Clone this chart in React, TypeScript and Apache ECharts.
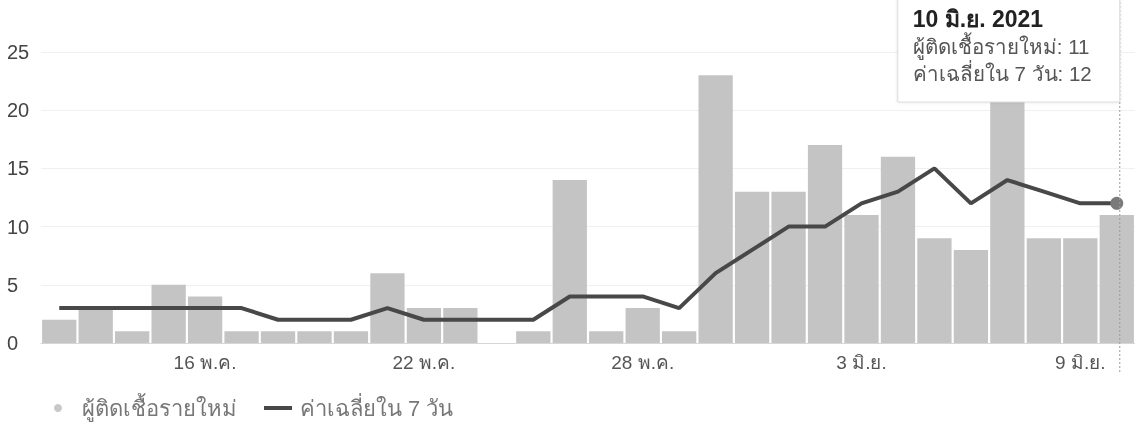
import React, { useEffect, useRef } from "react";
import * as echarts from "echarts";

const dates = [
  "12 พ.ค.", "13 พ.ค.", "14 พ.ค.", "15 พ.ค.", "16 พ.ค.", "17 พ.ค.", "18 พ.ค.", "19 พ.ค.", "20 พ.ค.", "21 พ.ค.",
  "22 พ.ค.", "23 พ.ค.", "24 พ.ค.", "25 พ.ค.", "26 พ.ค.", "27 พ.ค.", "28 พ.ค.", "29 พ.ค.", "30 พ.ค.", "31 พ.ค.",
  "1 มิ.ย.", "2 มิ.ย.", "3 มิ.ย.", "4 มิ.ย.", "5 มิ.ย.", "6 มิ.ย.", "7 มิ.ย.", "8 มิ.ย.", "9 มิ.ย.", "10 มิ.ย.",
];
const newCases = [2, 3, 1, 5, 4, 1, 1, 1, 1, 6, 3, 3, 0, 1, 14, 1, 3, 1, 23, 13, 13, 17, 11, 16, 9, 8, 22, 9, 9, 11];
const avg7 = [3, 3, 3, 3, 3, 3, 2, 2, 2, 3, 2, 2, 2, 2, 4, 4, 4, 3, 6, 8, 10, 10, 12, 13, 15, 12, 14, 13, 12, 12];
const yTicks = [0, 5, 10, 15, 20, 25];
const labelDates = ["16 พ.ค.", "22 พ.ค.", "28 พ.ค.", "3 มิ.ย.", "9 มิ.ย."];
const year = "2021";
const seriesNames = ["ผู้ติดเชื้อรายใหม่", "ค่าเฉลี่ยใน 7 วัน"];

const FONT = "Arial, 'Liberation Sans', 'Noto Sans', sans-serif";
const BAR = "#c4c4c4";
const LINE = "#484848";

// pick a font size so that a text occupies about the width it has in the reference
function fitSize(text: string, target: number, weight: string, lo: number, hi: number): number {
  const ctx = document.createElement("canvas").getContext("2d");
  if (!ctx) return lo;
  ctx.font = `${weight} 100px ${FONT}`;
  const w = ctx.measureText(text).width;
  if (!w) return lo;
  const s = (100 * target) / w;
  return Math.max(lo, Math.min(hi, Math.round(s * 2) / 2));
}

export default function App() {
  const ref = useRef<HTMLDivElement>(null);
  useEffect(() => {
    if (!ref.current) return;
    const chart = echarts.init(ref.current, null, { renderer: "svg" });
    const last = dates.length - 1;
    const lineData = avg7.map((v, i) =>
      i === last ? { value: v, symbol: "circle", symbolSize: 13, itemStyle: { color: "#7a7a7a" } } : v
    );
    const xLabelSize = fitSize(labelDates[0], 63, "normal", 16, 21);
    chart.setOption({
      animation: false,
      textStyle: { fontFamily: FONT },
      grid: { left: 41, width: 1099, top: 52, bottom: 79, containLabel: false },
      xAxis: {
        type: "category",
        data: dates,
        boundaryGap: true,
        axisTick: { show: false },
        axisLine: { show: true, lineStyle: { color: "#d6d6d6", width: 1 } },
        axisLabel: {
          interval: (i: number, v: string) => labelDates.includes(v),
          color: "#555",
          fontSize: xLabelSize,
          margin: 10,
          fontFamily: FONT,
        },
      },
      yAxis: {
        type: "value",
        min: yTicks[0],
        max: yTicks[yTicks.length - 1],
        interval: 5,
        axisLine: { show: false },
        axisTick: { show: false },
        splitLine: { show: true, lineStyle: { color: "#f0f0f0", width: 1 } },
        axisLabel: { color: "#444", fontSize: 20, align: "left", margin: 34, fontFamily: FONT },
      },
      series: [
        {
          name: seriesNames[0],
          type: "bar",
          data: newCases,
          barCategoryGap: "6%",
          itemStyle: { color: BAR },
          z: 2,
        },
        {
          name: seriesNames[1],
          type: "line",
          data: lineData,
          symbol: "none",
          showSymbol: true,
          lineStyle: { color: LINE, width: 4 },
          itemStyle: { color: LINE },
          z: 3,
        },
      ],
    });

    const [px] = chart.convertToPixel({ gridIndex: 0 }, [last, avg7[last]]) as number[];
    const boxR = px + 3;
    const boxW = 222;
    const boxX = boxR - boxW;
    const tipTitle = `${dates[last]} ${year}`;
    const tip1 = `${seriesNames[0]}: ${newCases[last]}`;
    const tip2 = `${seriesNames[1]}: ${avg7[last]}`;
    const titleSize = fitSize(tipTitle, 130, "bold", 16, 24);
    const tipSize = Math.min(fitSize(tip1, 178, "normal", 15, 23), fitSize(tip2, 178, "normal", 15, 23));
    const legSize = Math.min(fitSize(seriesNames[0], 155, "normal", 15, 23), fitSize(seriesNames[1], 165, "normal", 15, 23));
    chart.setOption({
      graphic: [
        {
          type: "line",
          shape: { x1: boxR, y1: 2, x2: boxR, y2: 372 },
          style: { stroke: "#9a9a9a", lineWidth: 1, lineDash: [2, 2] },
          z: 10,
        },
        {
          type: "rect",
          shape: { x: boxX, y: -2, width: boxW, height: 104 },
          style: { fill: "#ffffff", stroke: "#dcdcdc", lineWidth: 1, shadowBlur: 3, shadowColor: "rgba(0,0,0,0.12)" },
          z: 11,
        },
        {
          type: "text",
          x: boxX + 15,
          y: 19,
          style: { text: tipTitle, fill: "#222", fontSize: titleSize, fontWeight: "bold", fontFamily: FONT, verticalAlign: "middle" },
          z: 12,
        },
        {
          type: "text",
          x: boxX + 15,
          y: 46,
          style: { text: tip1, fill: "#555", fontSize: tipSize, fontFamily: FONT, verticalAlign: "middle" },
          z: 12,
        },
        {
          type: "text",
          x: boxX + 15,
          y: 73,
          style: { text: tip2, fill: "#555", fontSize: tipSize, fontFamily: FONT, verticalAlign: "middle" },
          z: 12,
        },
        {
          type: "circle",
          shape: { cx: 58, cy: 408, r: 4 },
          style: { fill: "#c8c8c8" },
        },
        {
          type: "text",
          x: 82,
          y: 408,
          style: { text: seriesNames[0], fill: "#777", fontSize: legSize, fontFamily: FONT, verticalAlign: "middle" },
        },
        {
          type: "line",
          shape: { x1: 264, y1: 408, x2: 292, y2: 408 },
          style: { stroke: LINE, lineWidth: 4 },
        },
        {
          type: "text",
          x: 300,
          y: 408,
          style: { text: seriesNames[1], fill: "#777", fontSize: legSize, fontFamily: FONT, verticalAlign: "middle" },
        },
      ],
    });
    return () => chart.dispose();
  }, []);
  return <div ref={ref} style={{ position: "fixed", left: 0, top: 0, width: 1135, height: 422 }} />;
}
